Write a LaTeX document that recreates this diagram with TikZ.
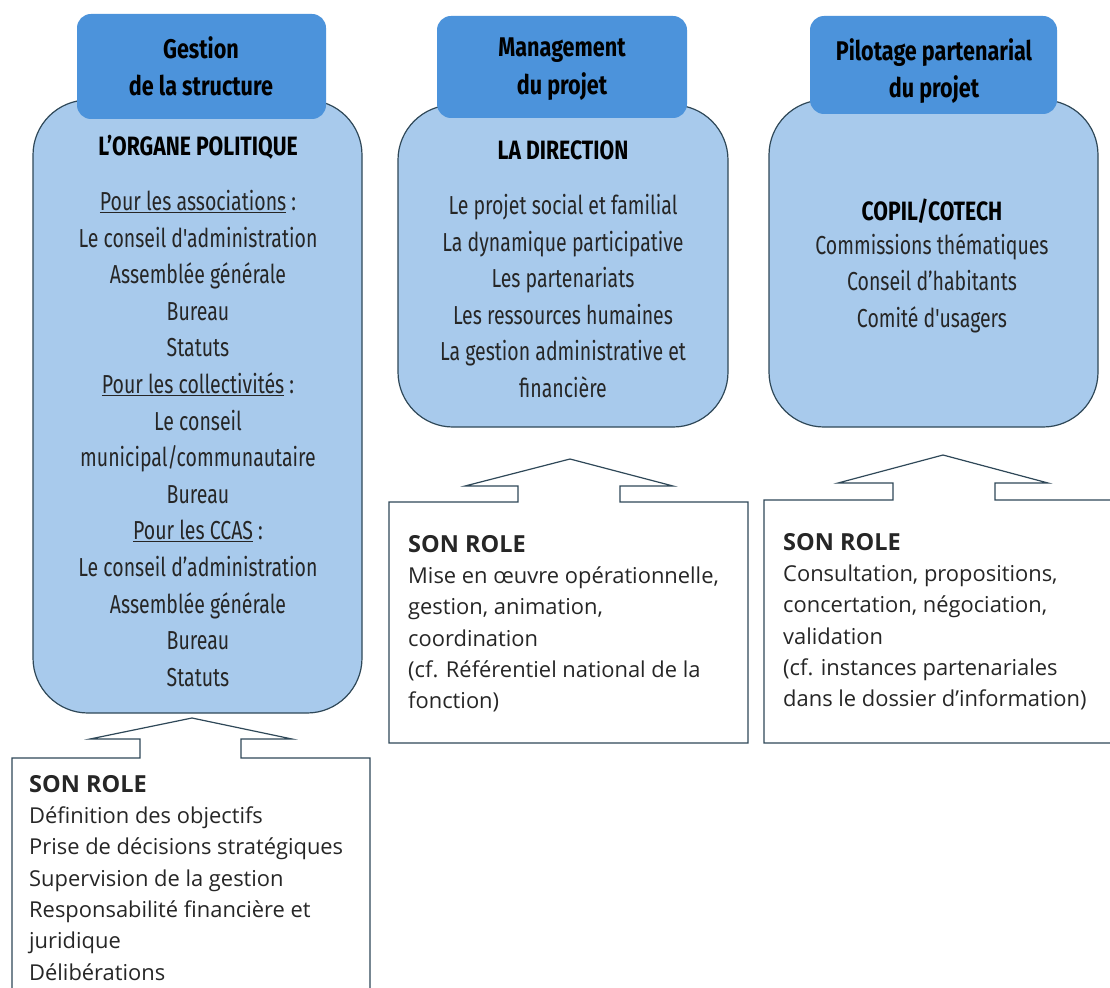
\documentclass[tikz,border=0pt]{standalone}
\usepackage{fontspec}
\setmainfont{Open Sans}
\newfontfamily\condfont[FakeStretch=0.75]{Fira Sans}
\newfontfamily\condgras[FakeStretch=0.8]{Fira Sans Bold}
\usetikzlibrary{positioning}

\definecolor{tabblue}{HTML}{4C93DB}
\definecolor{paleblue}{HTML}{A8CAEC}
\definecolor{edgegray}{HTML}{2F4858}
\definecolor{inkgray}{HTML}{262626}

\tikzset{
  organe/.style={draw=edgegray, fill=paleblue, rounded corners=55pt, line width=1.2pt},
  onglet/.style={fill=tabblue, rounded corners=14pt},
  titreonglet/.style={text=black, align=center, inner sep=0pt, anchor=north,
    font=\condgras\fontsize{27}{37.5}\selectfont},
  corps/.style={text=inkgray, align=center, inner sep=0pt, anchor=north,
    font=\condfont\fontsize{26}{36.6}\selectfont},
  entete/.style={text=black, align=center, inner sep=0pt, anchor=north,
    font=\condgras\fontsize{26.5}{36.6}\selectfont},
  bulle/.style={draw=edgegray, fill=white, line width=1.2pt},
  role/.style={text=inkgray, align=left, inner sep=0pt, anchor=north west,
    font=\fontsize{21.9}{31.3}\selectfont},
}
\newcommand{\souligne}[1]{\underline{#1}}
\newcommand{\sonrole}{\textbf{\fontsize{23.5}{31.3}\selectfont SON ROLE}}

\begin{document}
\begin{tikzpicture}[x=1pt,y=-1pt]
\clip (0,0) rectangle (1110,987);
\fill[white] (0,0) rectangle (1110,987);

% grands cadres arrondis
\draw[organe] (33,100) rectangle (362,713);
\draw[organe] (398,105) rectangle (728,427);
\draw[organe] (769,100) rectangle (1098,427);

% onglets
\fill[onglet] (77,14) rectangle (326,119);
\fill[onglet] (437,16) rectangle (687,118);
\fill[onglet] (810,16) rectangle (1057,114);

\node[titreonglet] (ongletA) at (201,36) {Gestion\\de la structure};
\node[titreonglet] (ongletB) at (562,38) {Management\\du projet};
\node[titreonglet] (ongletC) at (934,38) {Pilotage partenarial\\du projet};

% contenu des cadres
\node[entete] (organe) at (198,135) {L’ORGANE POLITIQUE};
\node[corps] (organeliste) at (198,190)
  {\souligne{Pour les associations} :\\
   Le conseil d'administration\\Assemblée générale\\Bureau\\Statuts\\
   \souligne{Pour les collectivités} :\\Le conseil\\municipal/communautaire\\Bureau\\
   \souligne{Pour les CCAS} :\\Le conseil d’administration\\Assemblée générale\\
   Bureau\\Statuts};

\node[entete] (direction) at (563,140) {LA DIRECTION};
\node[corps] (directionliste) at (563,194)
  {Le projet social et familial\\La dynamique participative\\Les partenariats\\
   Les ressources humaines\\La gestion administrative et\\financière};

\node[entete] (copil) at (932,199) {COPIL/COTECH};
\node[corps] (copilliste) at (932,233)
  {Commissions thématiques\\Conseil d’habitants\\Comité d'usagers};

% bulles "son role"
\draw[bulle] (12,758) -- (140,758) -- (140,739) -- (90,739) -- (192,718)
  -- (292,739) -- (241,739) -- (241,758) -- (370,758) -- (370,1000)
  -- (12,1000) -- cycle;
\draw[bulle] (389,502) -- (518,502) -- (518,486) -- (465,486) -- (570,459)
  -- (673,486) -- (620,486) -- (620,502) -- (748,502) -- (748,743)
  -- (389,743) -- cycle;
\draw[bulle] (764,500) -- (893,500) -- (893,483) -- (838,483) -- (943,455)
  -- (1048,483) -- (995,483) -- (995,500) -- (1120,500) -- (1120,743)
  -- (764,743) -- cycle;

\node[role] (roleA) at (29,775)
  {\sonrole\\Définition des objectifs\\
   Prise de décisions stratégiques\\Supervision de la gestion\\
   Responsabilité financière et\\juridique\\Délibérations};
\node[role] (roleB) at (408,535)
  {\sonrole\\Mise en œuvre opérationnelle,\\
   gestion, animation,\\coordination\\(cf. Référentiel national de la\\fonction)};
\node[role] (roleC) at (783,533)
  {\sonrole\\Consultation, propositions,\\
   concertation, négociation,\\validation\\(cf. instances partenariales\\
   dans le dossier d'information)};
\end{tikzpicture}
\end{document}
